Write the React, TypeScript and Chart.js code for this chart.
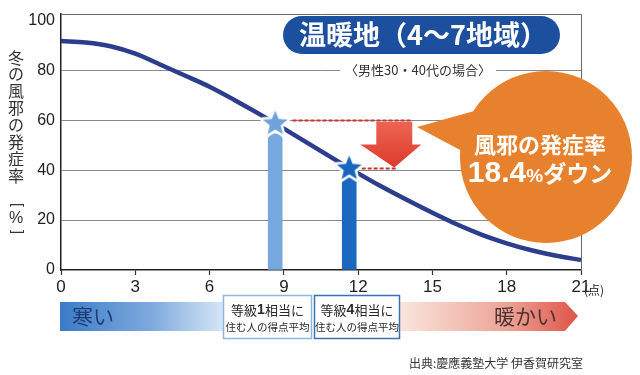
import React, { useEffect, useRef } from 'react';
import { Chart, registerables } from 'chart.js';

Chart.register(...registerables);

// ---- data ----
const xTicks = [0, 3, 6, 9, 12, 15, 18, 21];
const curveX = [0, 1, 2, 3, 4, 5, 6, 7, 8, 9, 10, 11, 12, 13, 14, 15, 16, 17, 18, 19, 20, 21];
const curveY = [91.7, 91.1, 89.6, 86.6, 82.3, 77.9, 73.4, 68.1, 62.5, 56.6, 50.6, 44.6, 38.7, 33.1, 27.9, 22.9, 18.2, 14.1, 10.7, 7.9, 5.7, 4.0];
const gradeX = [8.65, 11.64];
const starY = [59, 41];
const barY = [54.5, 38];
const dropFrom = 60;
const dropTo = 41;
const gradeLabels = ['1', '4'];

const JP = '"Noto Sans CJK JP", "Noto Sans", sans-serif';
const NUM = '"Liberation Sans", Arial, sans-serif';

function makeStar(color: string, r: number) {
  const pad = 3;
  const size = Math.ceil((r + pad) * 2);
  const c = document.createElement('canvas');
  c.width = size;
  c.height = size;
  const g = c.getContext('2d')!;
  const cx = size / 2, cy = size / 2 + 1;
  g.beginPath();
  for (let i = 0; i < 10; i++) {
    const rad = i % 2 === 0 ? r : r * 0.44;
    const ang = -Math.PI / 2 + (i * Math.PI) / 5;
    const px = cx + rad * Math.cos(ang), py = cy + rad * Math.sin(ang);
    if (i) g.lineTo(px, py); else g.moveTo(px, py);
  }
  g.closePath();
  g.lineJoin = 'round';
  g.strokeStyle = '#ffffff';
  g.lineWidth = 5;
  g.stroke();
  g.fillStyle = color;
  g.fill();
  return c;
}

function drawRuns(ctx: CanvasRenderingContext2D, runs: [string, string][], x: number, y: number, align: string, baseline: CanvasTextBaseline) {
  let total = 0;
  const ws = runs.map(([t, f]) => { ctx.font = f; const w = ctx.measureText(t).width; total += w; return w; });
  let cur = align === 'center' ? x - total / 2 : align === 'right' ? x - total : x;
  ctx.textAlign = 'left';
  ctx.textBaseline = baseline;
  runs.forEach(([t, f], i) => { ctx.font = f; ctx.fillText(t, cur, y); cur += ws[i]; });
}

const annot = {
  id: 'annot',
  beforeDatasetsDraw(chart: any) {
    const { ctx, chartArea: a, scales } = chart;
    const x = scales.x, y = scales.y;
    ctx.save();
    // frame top & right
    ctx.strokeStyle = '#6a6a6a';
    ctx.lineWidth = 1;
    ctx.beginPath();
    ctx.moveTo(a.left, a.top + 0.5);
    ctx.lineTo(a.right + 0.5, a.top + 0.5);
    ctx.lineTo(a.right + 0.5, a.bottom);
    ctx.stroke();

    // title pill
    ctx.fillStyle = '#1d4f9f';
    ctx.beginPath();
    (ctx as any).roundRect(283, 16, 277, 38, 19);
    ctx.fill();
    ctx.fillStyle = '#ffffff';
    ctx.font = `bold 27px ${JP}`;
    ctx.textAlign = 'center';
    ctx.textBaseline = 'middle';
    ctx.fillText('温暖地（4〜7地域）', 423, 35);

    // subtitle on 80 gridline
    const sy = y.getPixelForValue(80);
    ctx.font = `13px ${JP}`;
    const st = '〈男性30・40代の場合〉';
    const sw = ctx.measureText(st).width;
    ctx.fillStyle = '#ffffff';
    ctx.fillRect(418 - sw / 2 - 5, sy - 8, sw + 10, 16);
    ctx.fillStyle = '#333333';
    ctx.fillText(st, 418, sy);

    // red dashed lines
    ctx.strokeStyle = '#c8352e';
    ctx.lineWidth = 1.8;
    ctx.setLineDash([4, 2]);
    ctx.beginPath();
    const y1 = Math.round(y.getPixelForValue(dropFrom)) + 0.5;
    ctx.moveTo(x.getPixelForValue(9.35), y1);
    ctx.lineTo(x.getPixelForValue(14.2), y1);
    const y2 = Math.round(y.getPixelForValue(dropTo)) + 0.5;
    ctx.moveTo(x.getPixelForValue(11.9), y2);
    ctx.lineTo(x.getPixelForValue(13.6), y2);
    ctx.stroke();
    ctx.setLineDash([]);
    ctx.restore();
  },
  afterDatasetsDraw(chart: any) {
    const { ctx, scales } = chart;
    const x = scales.x, y = scales.y;
    ctx.save();

    // red arrow
    const top = y.getPixelForValue(dropFrom) + 1.5;
    const tip = y.getPixelForValue(dropTo);
    const cx = x.getPixelForValue(13.46);
    const headTop = top + (tip - top) * 0.5;
    const grad = ctx.createLinearGradient(0, top, 0, tip);
    grad.addColorStop(0, '#ec6552');
    grad.addColorStop(1, '#dc3a2c');
    ctx.fillStyle = grad;
    ctx.beginPath();
    ctx.moveTo(cx - 18, top);
    ctx.lineTo(cx + 18, top);
    ctx.lineTo(cx + 18, headTop);
    ctx.lineTo(cx + 27, headTop);
    ctx.lineTo(cx, tip);
    ctx.lineTo(cx - 34, headTop);
    ctx.lineTo(cx - 18, headTop);
    ctx.closePath();
    ctx.fill();

    // orange bubble
    ctx.fillStyle = '#e8812d';
    ctx.beginPath();
    ctx.arc(546, 157, 86, 0, Math.PI * 2);
    ctx.fill();
    ctx.beginPath();
    ctx.moveTo(417, 127);
    ctx.lineTo(485, 108);
    ctx.lineTo(475, 158);
    ctx.closePath();
    ctx.fill();
    ctx.fillStyle = '#ffffff';
    ctx.font = `bold 22px ${JP}`;
    ctx.textAlign = 'center';
    ctx.textBaseline = 'middle';
    ctx.fillText('風邪の発症率', 540, 145);
    drawRuns(ctx, [['18.4', `bold 30px ${NUM}`], ['%', `bold 19px ${NUM}`], ['ダウン', `bold 23px ${JP}`]], 540, 182, 'center', 'alphabetic');
    ctx.restore();
  },
  afterDraw(chart: any) {
    const { ctx, chartArea: a } = chart;
    ctx.save();
    // y-axis title (vertical)
    const chars = ['冬', 'の', '風', '邪', 'の', '発', '症', '率'];
    ctx.fillStyle = '#333333';
    ctx.font = `16px ${JP}`;
    ctx.textAlign = 'center';
    ctx.textBaseline = 'middle';
    chars.forEach((c, i) => ctx.fillText(c, 16, 57.5 + i * 16.9));
    ctx.font = `14px ${NUM}`;
    ctx.save(); ctx.translate(17, 205); ctx.rotate(Math.PI / 2); ctx.fillText('[', 0, 0); ctx.restore();
    ctx.font = `16px ${NUM}`;
    ctx.fillText('%', 16, 219);
    ctx.font = `14px ${NUM}`;
    ctx.save(); ctx.translate(17, 232); ctx.rotate(Math.PI / 2); ctx.fillText(']', 0, 0); ctx.restore();

    // unit (点)
    ctx.font = `12px ${JP}`;
    ctx.textAlign = 'left';
    ctx.fillStyle = '#222222';
    ctx.fillText('(点)', a.right + 3, 290);

    // bottom gradient band
    const gl = ctx.createLinearGradient(60, 0, 226, 0);
    gl.addColorStop(0, '#3b7bc6');
    gl.addColorStop(0.55, '#7eaade');
    gl.addColorStop(1, '#d9e8f6');
    ctx.fillStyle = gl;
    ctx.fillRect(60, 302, 166, 29);
    const gr = ctx.createLinearGradient(398, 0, 578, 0);
    gr.addColorStop(0, '#fbe6de');
    gr.addColorStop(0.6, '#eca496');
    gr.addColorStop(1, '#de5448');
    ctx.fillStyle = gr;
    ctx.beginPath();
    ctx.moveTo(398, 302);
    ctx.lineTo(565, 302);
    ctx.lineTo(578, 316);
    ctx.lineTo(565, 331);
    ctx.lineTo(398, 331);
    ctx.closePath();
    ctx.fill();

    ctx.fillStyle = '#1e3c78';
    ctx.font = `21px ${JP}`;
    ctx.textAlign = 'left';
    ctx.textBaseline = 'middle';
    ctx.fillText('寒い', 72, 316);
    ctx.fillStyle = '#4d3434';
    ctx.fillText('暖かい', 494, 316);

    // grade boxes
    const boxes = [
      { l: 223.5, w: 88, stroke: '#8db6de' },
      { l: 314.5, w: 85, stroke: '#3c72b4' },
    ];
    boxes.forEach((b, i) => {
      ctx.fillStyle = '#ffffff';
      ctx.fillRect(b.l, 295.5, b.w, 43);
      ctx.strokeStyle = b.stroke;
      ctx.lineWidth = 1.5;
      ctx.strokeRect(b.l, 295.5, b.w, 43);
      ctx.fillStyle = '#2a2a2a';
      const mid = b.l + b.w / 2;
      drawRuns(ctx, [['等級', `13px ${JP}`], [gradeLabels[i], `bold 14px ${NUM}`], ['相当に', `13px ${JP}`]], mid, 310, 'center', 'middle');
      ctx.font = `10.5px ${JP}`;
      ctx.textAlign = 'center';
      ctx.fillText('住む人の得点平均', mid, 327);
    });

    // source
    ctx.fillStyle = '#333333';
    ctx.font = `12px ${JP}`;
    ctx.textAlign = 'right';
    ctx.textBaseline = 'middle';
    ctx.fillText('出典:慶應義塾大学 伊香賀研究室', 583, 363);
    ctx.restore();
  },
};

export default function App() {
  const ref = useRef<HTMLCanvasElement>(null);
  useEffect(() => {
    const star1 = makeStar('#6fa2dc', 13);
    const star2 = makeStar('#1a66bd', 13);
    Chart.defaults.font.family = NUM;
    const chart = new Chart(ref.current!, {
      type: 'bar',
      data: {
        datasets: [
          {
            type: 'line',
            label: 'stars',
            data: gradeX.map((v, i) => ({ x: v, y: starY[i] })),
            showLine: false,
            pointStyle: [star1, star2] as any,
            pointRadius: 13,
            order: 0,
          } as any,
          {
            type: 'line',
            label: 'curve',
            data: curveX.map((v, i) => ({ x: v, y: curveY[i] })),
            borderColor: '#2b3d8c',
            borderWidth: 4.5,
            pointRadius: 0,
            cubicInterpolationMode: 'monotone',
            fill: false,
            order: 1,
          } as any,
          {
            type: 'bar',
            label: 'bars',
            data: gradeX.map((v, i) => ({ x: v, y: barY[i] })),
            backgroundColor: ['#76a8df', '#1b68be'],
            barThickness: 14,
            borderRadius: 6,
            borderSkipped: 'start',
            order: 2,
          } as any,
        ],
      },
      options: {
        animation: false,
        responsive: false,
        devicePixelRatio: 1,
        layout: { padding: { left: 8, top: 6, right: 59, bottom: 75 } },
        plugins: { legend: { display: false }, tooltip: { enabled: false }, title: { display: false } },
        scales: {
          x: {
            type: 'linear',
            min: xTicks[0],
            max: xTicks[xTicks.length - 1],
            offset: false,
            afterBuildTicks: (s: any) => { s.ticks = xTicks.map((v) => ({ value: v })); },
            ticks: { font: { family: NUM, size: 17 }, color: '#222', padding: 2, maxRotation: 0, autoSkip: false },
            grid: { drawOnChartArea: false, drawTicks: true, tickLength: 5, tickColor: '#333', tickWidth: 1.2, offset: false },
            border: { color: '#222', width: 1.5 },
            afterFit: (s: any) => { s.height = 30; s.paddingLeft = 0; s.paddingRight = 0; },
          },
          y: {
            type: 'linear',
            min: 0,
            max: 102.5,
            ticks: { stepSize: 20, includeBounds: false, font: { family: NUM, size: 16 }, color: '#222', padding: 6 },
            grid: {
              drawTicks: false,
              color: (c: any) => (c.tick && (c.tick.value === 0 || c.tick.value === 100) ? 'rgba(0,0,0,0)' : '#8a8a8a'),
              lineWidth: 1,
            },
            border: { color: '#222', width: 1.5 },
            afterFit: (s: any) => { s.width = 53; s.paddingTop = 0; s.paddingBottom = 0; },
          },
        },
      } as any,
      plugins: [annot],
    });
    return () => chart.destroy();
  }, []);
  return (
    <div style={{ position: 'fixed', left: 0, top: 0, width: 640, height: 375, background: '#fff' }}>
      <canvas ref={ref} width={640} height={375} style={{ display: 'block' }} />
    </div>
  );
}
